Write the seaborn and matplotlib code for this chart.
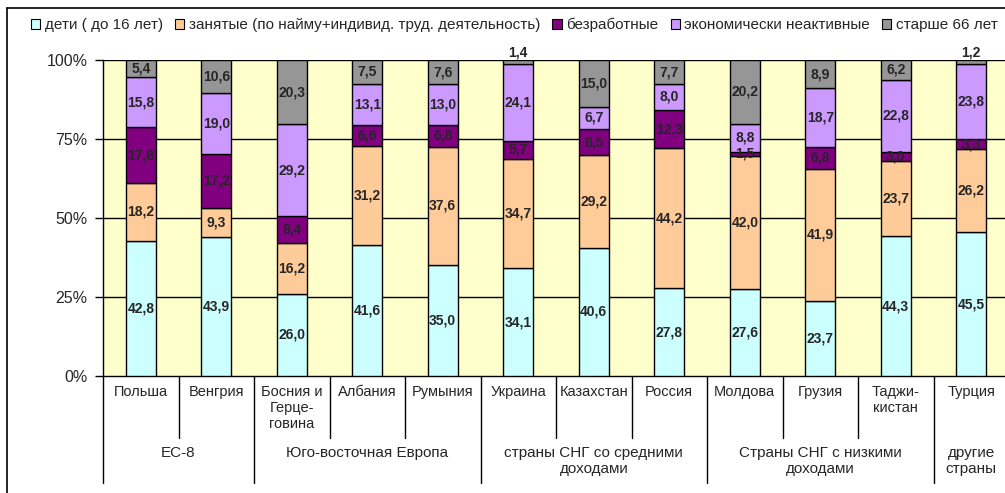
import numpy as np
import pandas as pd
import seaborn as sns
import matplotlib.pyplot as plt
from matplotlib.patches import Patch
from matplotlib.lines import Line2D
import matplotlib.transforms as mtransforms

countries = ["Польша", "Венгрия", "Босния и\nГерце-\nговина", "Албания", "Румыния",
             "Украина", "Казахстан", "Россия", "Молдова", "Грузия", "Таджи-\nкистан", "Турция"]
groups = ["ЕС-8", "Юго-восточная Европа", "страны СНГ со средними\nдоходами",
          "Страны СНГ с низкими\nдоходами", "другие\nстраны"]
group_sizes = [2, 3, 3, 3, 1]

series = ["дети ( до 16 лет)", "занятые (по найму+индивид. труд. деятельность)",
          "безработные", "экономически неактивные", "старше 66 лет"]
children = [42.8, 43.9, 26.0, 41.6, 35.0, 34.1, 40.6, 27.8, 27.6, 23.7, 44.3, 45.5]
employed = [18.2, 9.3, 16.2, 31.2, 37.6, 34.7, 29.2, 44.2, 42.0, 41.9, 23.7, 26.2]
unemployed = [17.8, 17.2, 8.4, 6.6, 6.8, 5.7, 8.5, 12.3, 1.5, 6.8, 3.0, 3.3]
inactive = [15.8, 19.0, 29.2, 13.1, 13.0, 24.1, 6.7, 8.0, 8.8, 18.7, 22.8, 23.8]
older = [5.4, 10.6, 20.3, 7.5, 7.6, 1.4, 15.0, 7.7, 20.2, 8.9, 6.2, 1.2]
colors = ["#CCFFFF", "#FFCC99", "#800080", "#CC99FF", "#969696"]

df = pd.DataFrame({"country": countries})
for name, vals in zip(series, [children, employed, unemployed, inactive, older]):
    df[name] = vals
totals = df[series].sum(axis=1)
pct = df[series].div(totals, axis=0) * 100

sns.set_style("white")
plt.rcParams['font.family'] = ['Liberation Sans', 'DejaVu Sans']

W, H = 1005, 493
fig = plt.figure(figsize=(W / 100, H / 100), dpi=100)
ax = fig.add_axes([103 / W, 1 - 376 / H, 906 / W, 316 / H])
ax.set_facecolor("#FFFFCC")

bottom = np.zeros(len(df))
for name, col in zip(series, colors):
    plot_df = pd.DataFrame({"country": df["country"], "val": pct[name]})
    sns.barplot(data=plot_df, x="country", y="val", order=countries, color=col,
                width=0.4, bottom=bottom, edgecolor="black", linewidth=1,
                saturation=1, errorbar=None, ax=ax, zorder=3)
    for i, (v, raw) in enumerate(zip(pct[name], df[name])):
        lbl = f"{raw:.1f}".replace(".", ",")
        if name == series[-1] and raw < 2:
            ax.text(i, 100.2, lbl, ha="center", va="bottom", fontsize=10,
                    fontweight="bold", zorder=5, clip_on=False)
        else:
            ax.text(i, bottom[i] + v / 2, lbl, ha="center", va="center", fontsize=10,
                    fontweight="bold", zorder=5)
    bottom = bottom + pct[name].values

ax.set_xlim(-0.5, 11.5)
ax.set_ylim(0, 100)
ax.set_yticks([0, 25, 50, 75, 100])
ax.set_yticklabels(["0%", "25%", "50%", "75%", "100%"], fontsize=11.5)
ax.tick_params(axis="y", length=6, width=1, pad=5, color="black", left=True)
ax.tick_params(axis="x", bottom=False, labelbottom=False)
ax.set_xlabel("")
ax.set_ylabel("")
for y in [25, 50, 75, 100]:
    ax.axhline(y, color="black", lw=1, zorder=1)
for s in ["top", "right"]:
    ax.spines[s].set_visible(False)
for s in ["left", "bottom"]:
    ax.spines[s].set_color("black")
    ax.spines[s].set_linewidth(1)

# hierarchical category axis
trans = mtransforms.blended_transform_factory(ax.transData, ax.transAxes)
for i, c in enumerate(countries):
    ax.text(i, -0.03, c, transform=trans, ha="center", va="top", fontsize=10.5,
            linespacing=1.17)
starts = np.cumsum([0] + group_sizes)
group_edges = [s - 0.5 for s in starts]
for e in group_edges[:-1]:
    ax.plot([e, e], [0, -0.339], transform=trans, color="black", lw=1, clip_on=False)
for i in range(len(countries) - 1):
    e = i + 0.5
    if e not in group_edges:
        ax.plot([e, e], [0, -0.196], transform=trans, color="black", lw=1, clip_on=False)
for g, s, n in zip(groups, starts[:-1], group_sizes):
    ax.text(s + (n - 1) / 2, -0.222, g, transform=trans, ha="center", va="top",
            fontsize=11, linespacing=1.15)

# legend
handles = [Patch(facecolor=c, edgecolor="black", linewidth=0.8) for c in colors]
fig.legend(handles, series, loc="center left", bbox_to_anchor=(31 / W, 1 - 25 / H),
           ncol=5, frameon=False, fontsize=11, handlelength=0.6, handleheight=0.6,
           handletextpad=0.3, columnspacing=0.8, borderpad=0, borderaxespad=0)

# outer chart border
fig.add_artist(Line2D([7 / W, 7 / W], [0, 1 - 8 / H], transform=fig.transFigure,
                      color="black", lw=1.2))
fig.add_artist(Line2D([7 / W, 1], [1 - 8 / H, 1 - 8 / H], transform=fig.transFigure,
                      color="black", lw=1.2))

fig.savefig("out.png", dpi=100)
